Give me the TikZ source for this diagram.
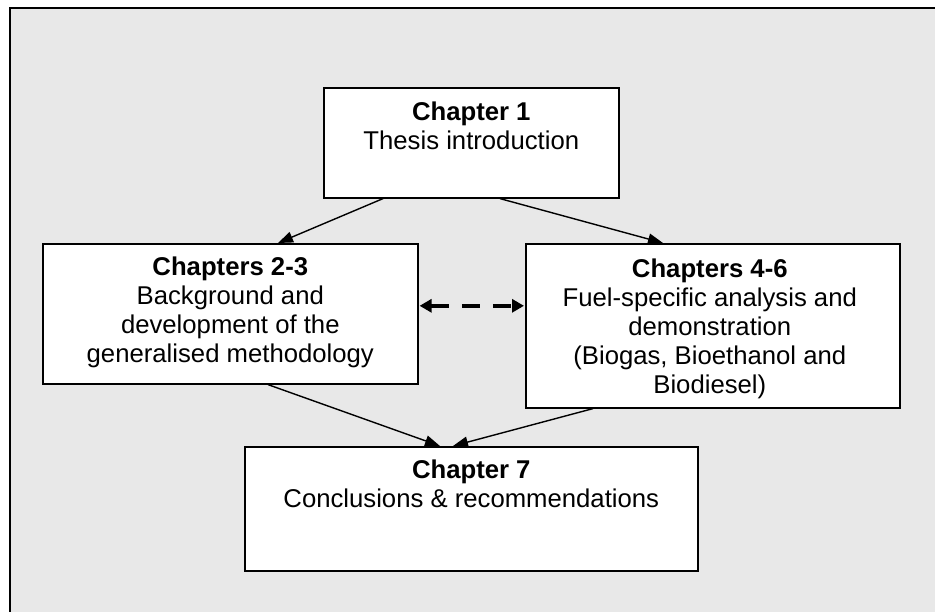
\documentclass[tikz,border=0pt]{standalone}
\usepackage{fontspec}
\setmainfont{Liberation Sans}
\usetikzlibrary{arrows.meta,calc}
\definecolor{panel}{HTML}{E8E8E8}
\begin{document}
\begin{tikzpicture}[x=1pt,y=-1pt,
  chapbox/.style={draw=black, line width=1.6pt, fill=white, inner sep=0pt, anchor=north west},
  chaptext/.style={anchor=north, align=center, inner sep=0pt, font=\fontsize{25.7}{29}\selectfont},
  flow/.style={line width=1.4pt, -{Triangle[length=15pt,width=11pt]}},
  link/.style={line width=4pt, dash pattern=on 18pt off 13pt,
    {Triangle[length=12pt,width=13pt]}-{Triangle[length=12pt,width=13pt]}}
]
% page and panel
\useasboundingbox (0,0) rectangle (935,611);
\clip (0,0) rectangle (935,611);
\fill[white] (0,0) rectangle (935,611);
\draw[fill=panel, line width=2pt] (10,8) rectangle (990,680);

% chapter boxes
\node[chapbox, minimum width=295pt, minimum height=110pt] (c1)  at (323,87)  {};
\node[chapbox, minimum width=375pt, minimum height=140pt] (c23) at (42,243)  {};
\node[chapbox, minimum width=374pt, minimum height=164pt] (c46) at (525,243) {};
\node[chapbox, minimum width=453pt, minimum height=124pt] (c7)  at (244,446) {};

% box texts
\node[chaptext] (t1)  at ($(c1.north)+(0,15)$)      {\textbf{Chapter 1}\\Thesis introduction};
\node[chaptext] (t23) at ($(c23.north)+(0,13.5)$)   {\textbf{Chapters 2-3}\\Background and\\development of the\\generalised methodology};
\node[chaptext] (t46) at ($(c46.north)+(-3,15.5)$)  {\textbf{Chapters 4-6}\\Fuel-specific analysis and\\demonstration\\(Biogas, Bioethanol and\\Biodiesel)};
\node[chaptext] (t7)  at ($(c7.north)+(0,13.5)$)    {\textbf{Chapter 7}\\Conclusions \& recommendations};

% connectors
\draw[flow] ($(c1.south west)+(60,0)$)  -- ($(c23.north west)+(236,0)$);
\draw[flow] ($(c1.south west)+(177,0)$) -- ($(c46.north west)+(138,0)$);
\draw[flow] ($(c23.south west)+(226,0)$) -- ($(c7.north west)+(196,0)$);
\draw[flow] ($(c46.south west)+(68,0)$)  -- ($(c7.north west)+(209,0)$);
\draw[link] ($(c23.east)+(1,-8)$) -- ($(c46.west)+(-1,-20)$);
\end{tikzpicture}
\end{document}
